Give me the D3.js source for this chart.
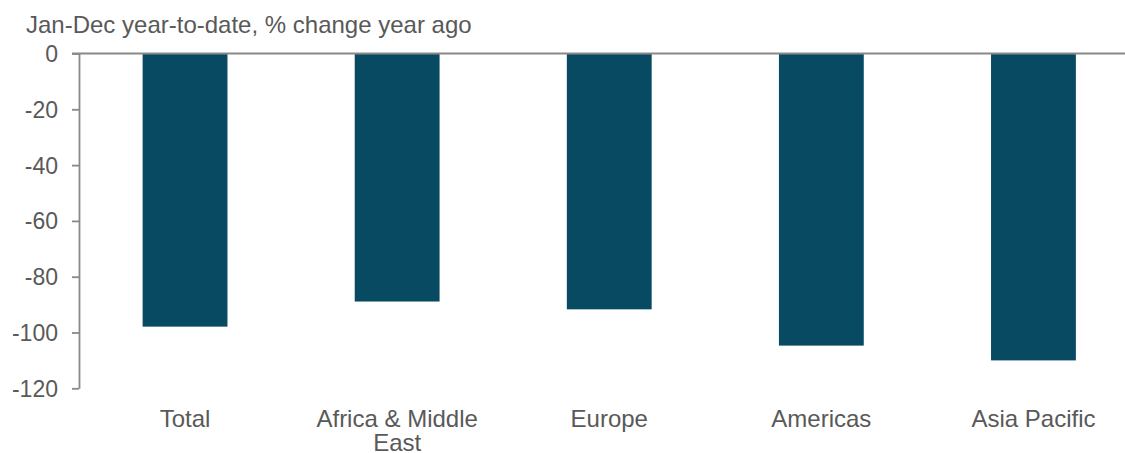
<!DOCTYPE html>
<html>
<head>
<meta charset="utf-8">
<script src="https://cdn.jsdelivr.net/npm/d3@7"></script>
<style>
  html, body { margin: 0; padding: 0; background: #fff; }
  svg { display: block; }
  text { font-family: "Liberation Sans", Arial, sans-serif; fill: #595959; }
</style>
</head>
<body>
<svg id="chart" width="1125" height="453"></svg>
<script>
// Regional change, Jan-Dec year-to-date vs year ago (%)
const categories = ["Total", "Africa & Middle East", "Europe", "Americas", "Asia Pacific"];
const values = [-97.9, -88.9, -91.7, -104.7, -110.0];
const yTicks = [0, -20, -40, -60, -80, -100, -120];
const title = "Jan-Dec year-to-date, % change year ago";

const svg = d3.select("#chart");
const W = 1125, H = 453;
const plotLeft = 79, plotTop = 53.5, plotBottom = 388.3;
const step = 212.1;

const x = d3.scaleBand()
  .domain(categories)
  .range([plotLeft, plotLeft + step * categories.length])
  .paddingInner(0.6)
  .paddingOuter(0.3);

const y = d3.scaleLinear()
  .domain([0, -120])
  .range([plotTop, plotBottom]);

const tickFont = 23;
const labelFont = 24;
const gray = "#898989";

// title
svg.append("text")
  .attr("x", 26)
  .attr("y", 32.5)
  .attr("font-size", labelFont)
  .text(title);

// bars
svg.append("g")
  .selectAll("rect")
  .data(categories)
  .join("rect")
  .attr("x", d => x(d))
  .attr("width", x.bandwidth())
  .attr("y", y(0))
  .attr("height", (d, i) => y(values[i]) - y(0))
  .attr("fill", "#084A62");

// y axis
const yAxis = svg.append("g")
  .attr("transform", `translate(${plotLeft},0)`)
  .call(d3.axisLeft(y).tickValues(yTicks).tickSize(7).tickSizeOuter(0).tickPadding(14)
    .tickFormat(d => d3.format("d")(d).replace("−", "-")));
yAxis.select(".domain").attr("stroke", gray).attr("stroke-width", 1.8);
yAxis.selectAll(".tick line").attr("stroke", gray).attr("stroke-width", 1.8);
yAxis.selectAll(".tick text")
  .attr("font-size", tickFont)
  .attr("font-family", "Liberation Sans, Arial, sans-serif")
  .attr("fill", "#595959")
  .attr("dy", "0.35em");

// zero baseline
svg.append("line")
  .attr("x1", plotLeft - 7)
  .attr("x2", W)
  .attr("y1", y(0))
  .attr("y2", y(0))
  .attr("stroke", gray)
  .attr("stroke-width", 1.8);

// category labels, wrapped to the band step
const lineH = 24.5;
const measure = svg.append("text").attr("font-size", labelFont).attr("opacity", 0);
function wrapLines(str, maxW) {
  const words = str.split(" ");
  const lines = [];
  let cur = "";
  words.forEach(w => {
    const trial = cur ? cur + " " + w : w;
    measure.text(trial);
    if (measure.node().getComputedTextLength() > maxW && cur) {
      lines.push(cur);
      cur = w;
    } else {
      cur = trial;
    }
  });
  if (cur) lines.push(cur);
  return lines;
}

svg.append("g")
  .selectAll("text")
  .data(categories)
  .join("text")
  .attr("font-size", labelFont)
  .attr("text-anchor", "middle")
  .each(function(d) {
    const lines = wrapLines(d, step * 0.9);
    const cx = x(d) + x.bandwidth() / 2;
    d3.select(this).selectAll("tspan")
      .data(lines)
      .join("tspan")
      .attr("x", cx)
      .attr("y", (l, i) => 426.5 + i * lineH)
      .text(l => l);
  });
measure.remove();
</script>
</body>
</html>
